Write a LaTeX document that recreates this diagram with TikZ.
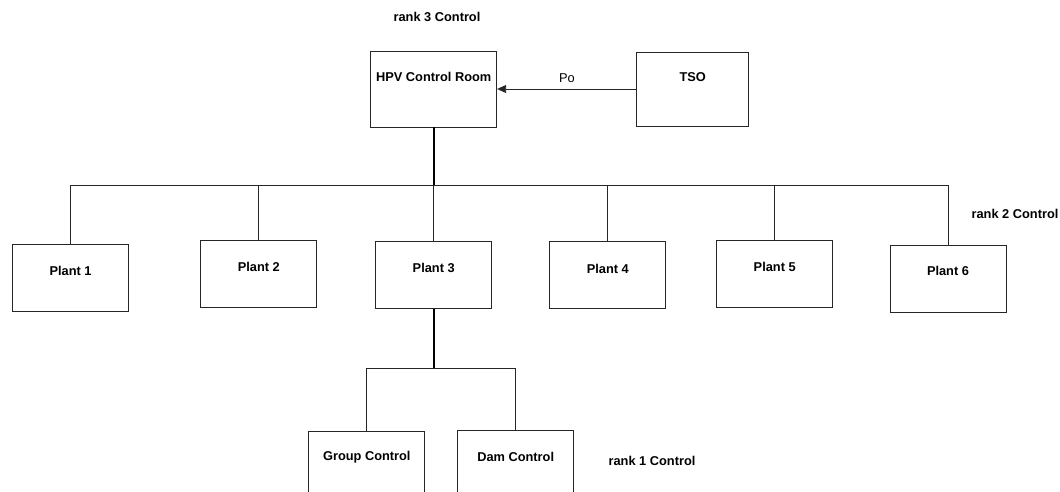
\documentclass[tikz,border=0pt]{standalone}
\usepackage{fontspec}
\setmainfont{Liberation Sans}
\usetikzlibrary{arrows.meta}
\begin{document}
\begin{tikzpicture}[x=1pt,y=-1pt,
  box/.style={draw=black!85,line width=0.9pt,fill=white,inner sep=0pt,minimum width=116pt,minimum height=67pt},
  lbl/.style={inner sep=0pt,font=\fontsize{12.8}{15}\selectfont\bfseries},
  plain/.style={inner sep=0pt,font=\fontsize{12.8}{15}\selectfont},
  conn/.style={draw=black!85,line width=0.9pt},
  thick conn/.style={draw=black,line width=2pt}]
\useasboundingbox (0,0) rectangle (1060,492);
\clip (0,0) rectangle (1060,492);
% boxes
\node[box,minimum width=126pt,minimum height=76pt] (hpv) at (433.7,89) {};
\node[box,minimum width=112pt,minimum height=74pt] (tso) at (692.7,89) {};
\node[box] (p1) at (70.6,277.7) {};
\node[box] (p2) at (258.8,273.8) {};
\node[box] (p3) at (433.7,275) {};
\node[box] (p4) at (607.8,275) {};
\node[box] (p5) at (774.7,273.8) {};
\node[box] (p6) at (948,278.8) {};
\node[box] (gc) at (366.8,465.2) {};
\node[box] (dc) at (515.7,464.2) {};
% labels in boxes
\node[lbl] (thpv) at (433.7,77) {HPV Control Room};
\node[lbl] (ttso) at (692.7,77) {TSO};
\node[lbl] (tp1) at (70.6,270.7) {Plant 1};
\node[lbl] (tp2) at (258.8,267) {Plant 2};
\node[lbl] (tp3) at (433.7,268) {Plant 3};
\node[lbl] (tp4) at (607.8,269) {Plant 4};
\node[lbl] (tp5) at (774.7,267) {Plant 5};
\node[lbl] (tp6) at (948,271.4) {Plant 6};
\node[lbl] (tgc) at (366.8,457.3) {Group Control};
\node[lbl] (tdc) at (515.7,456.7) {Dam Control};
% rank labels
\node[lbl] (r3) at (437,17) {rank 3 Control};
\node[lbl] (r2) at (1015,214) {rank 2 Control};
\node[lbl] (r1) at (652,460.7) {rank 1 Control};
% arrow
\draw[conn,-{Triangle[length=9pt,width=8pt]}] (tso.west) -- (hpv.east);
\node[plain] (po) at (567,78) {Po};
% tree
\coordinate (bus) at (433.7,185);
\coordinate (sub) at (433.7,368.3);
\draw[conn] (p1.north) |- (bus);
\draw[conn] (p2.north) |- (bus);
\draw[conn] (p3.north) -- (bus);
\draw[conn] (p4.north) |- (bus);
\draw[conn] (p5.north) |- (bus);
\draw[conn] (p6.north) |- (bus);
\draw[thick conn] (hpv.south) -- (bus);
\draw[conn] (gc.north) |- (sub);
\draw[conn] (dc.north) |- (sub);
\draw[thick conn] (p3.south) -- (sub);
\end{tikzpicture}
\end{document}
